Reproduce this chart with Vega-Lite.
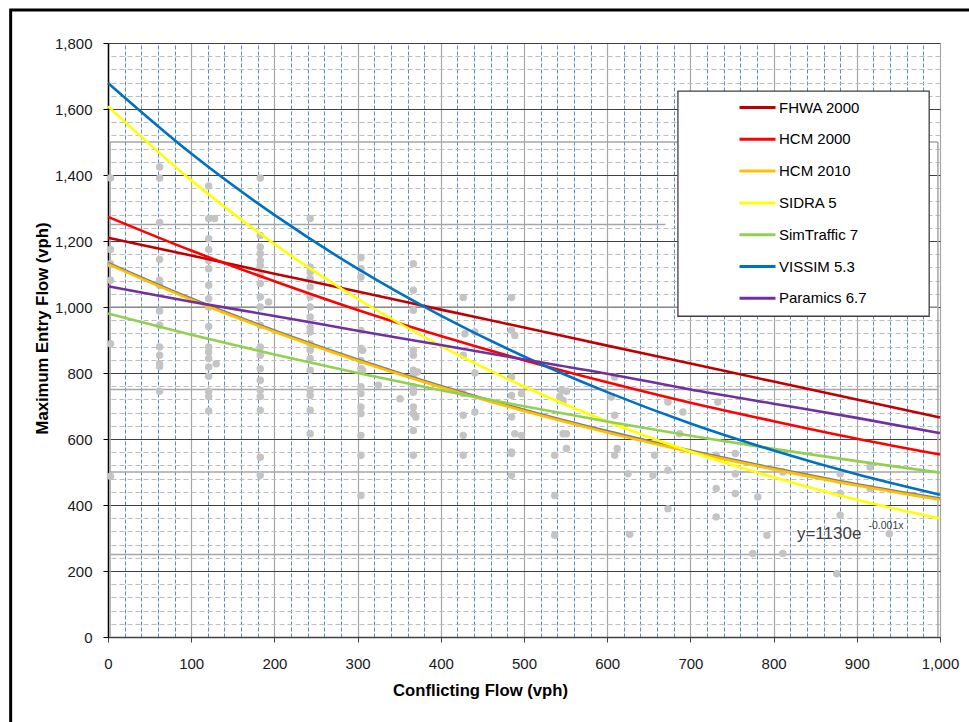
{
  "$schema": "https://vega.github.io/schema/vega-lite/v6.json",
  "autosize": {"type": "none"},
  "padding": {"left": 108, "top": 43, "right": 29, "bottom": 85},
  "width": 832,
  "height": 594,
  "background": "#ffffff",
  "config": {"view": {"stroke": null}, "font": "Liberation Sans"},
  "datasets": {
    "pts": [
      {"x":3,"y":1391},{"x":3,"y":1174},{"x":3,"y":1131},{"x":3,"y":1081},{"x":3,"y":889},{"x":3,"y":487},
      {"x":62,"y":1424},{"x":62,"y":1391},{"x":62,"y":1256},{"x":62,"y":1144},{"x":62,"y":1081},{"x":62,"y":1066},{"x":62,"y":988},{"x":62,"y":945},{"x":62,"y":879},{"x":62,"y":854},{"x":62,"y":828},{"x":62,"y":820},{"x":62,"y":745},
      {"x":121,"y":1367},{"x":121,"y":1268},{"x":128,"y":1268},{"x":121,"y":1207},{"x":121,"y":1174},{"x":121,"y":1141},{"x":121,"y":1116},{"x":121,"y":1066},{"x":121,"y":1025},{"x":121,"y":1000},{"x":121,"y":941},{"x":121,"y":879},{"x":121,"y":864},{"x":121,"y":844},{"x":130,"y":828},{"x":121,"y":818},{"x":121,"y":790},{"x":121,"y":745},{"x":121,"y":729},{"x":121,"y":685},
      {"x":183,"y":1391},{"x":183,"y":1217},{"x":183,"y":1182},{"x":183,"y":1162},{"x":183,"y":1141},{"x":183,"y":1126},{"x":183,"y":1096},{"x":183,"y":1071},{"x":183,"y":1030},{"x":193,"y":1015},{"x":183,"y":1000},{"x":183,"y":945},{"x":183,"y":879},{"x":183,"y":854},{"x":183,"y":813},{"x":183,"y":778},{"x":183,"y":748},{"x":183,"y":729},{"x":183,"y":687},{"x":183,"y":545},{"x":183,"y":490},
      {"x":243,"y":1268},{"x":243,"y":1121},{"x":243,"y":1106},{"x":243,"y":1086},{"x":243,"y":1061},{"x":243,"y":1030},{"x":243,"y":1000},{"x":243,"y":970},{"x":243,"y":939},{"x":243,"y":924},{"x":243,"y":889},{"x":243,"y":869},{"x":243,"y":844},{"x":243,"y":808},{"x":243,"y":748},{"x":243,"y":732},{"x":243,"y":687},{"x":243,"y":616},
      {"x":304,"y":1150},{"x":304,"y":1116},{"x":304,"y":1091},{"x":304,"y":929},{"x":304,"y":874},{"x":306,"y":869},{"x":304,"y":838},{"x":304,"y":813},{"x":306,"y":808},{"x":304,"y":758},{"x":304,"y":738},{"x":304,"y":697},{"x":304,"y":677},{"x":304,"y":611},{"x":304,"y":551},{"x":304,"y":429},{"x":325,"y":763},{"x":351,"y":722},
      {"x":367,"y":1131},{"x":367,"y":1051},{"x":367,"y":990},{"x":367,"y":869},{"x":367,"y":854},{"x":367,"y":808},{"x":372,"y":803},{"x":367,"y":793},{"x":367,"y":758},{"x":367,"y":742},{"x":367,"y":697},{"x":367,"y":677},{"x":370,"y":667},{"x":367,"y":626},{"x":367,"y":551},
      {"x":427,"y":1029},{"x":429,"y":919},{"x":441,"y":924},{"x":427,"y":854},{"x":441,"y":800},{"x":427,"y":738},{"x":441,"y":682},{"x":427,"y":672},{"x":427,"y":611},{"x":427,"y":551},
      {"x":485,"y":1029},{"x":485,"y":929},{"x":489,"y":914},{"x":485,"y":788},{"x":497,"y":738},{"x":485,"y":732},{"x":485,"y":667},{"x":489,"y":616},{"x":497,"y":611},{"x":485,"y":561},{"x":485,"y":556},{"x":485,"y":490},
      {"x":545,"y":748},{"x":551,"y":745},{"x":543,"y":728},{"x":547,"y":717},{"x":547,"y":616},{"x":551,"y":616},{"x":551,"y":571},{"x":537,"y":551},{"x":537,"y":429},{"x":537,"y":308},
      {"x":609,"y":788},{"x":605,"y":727},{"x":609,"y":672},{"x":612,"y":571},{"x":609,"y":551},{"x":625,"y":495},{"x":627,"y":311},
      {"x":673,"y":712},{"x":691,"y":682},{"x":687,"y":616},{"x":657,"y":551},{"x":655,"y":490},{"x":673,"y":505},{"x":673,"y":389},
      {"x":733,"y":712},{"x":731,"y":551},{"x":754,"y":556},{"x":754,"y":495},{"x":731,"y":450},{"x":754,"y":435},{"x":731,"y":364},
      {"x":781,"y":424},{"x":792,"y":308},{"x":775,"y":253},{"x":811,"y":253},{"x":811,"y":500},{"x":880,"y":495},{"x":880,"y":435},{"x":880,"y":369},{"x":876,"y":192},{"x":916,"y":515},{"x":916,"y":450},{"x":939,"y":313}
    ],
    "ghost": [
      {"x1":2.5,"x2":997.5,"y1":250,"y2":250},
      {"x1":2.5,"x2":997.5,"y1":500,"y2":500},
      {"x1":2.5,"x2":997.5,"y1":750,"y2":750},
      {"x1":2.5,"x2":997.5,"y1":1000,"y2":1000},
      {"x1":2.5,"x2":670,"y1":1250,"y2":1250},
      {"x1":2.5,"x2":997.5,"y1":1500,"y2":1500},
      {"x1":2.5,"x2":2.5,"y1":0,"y2":1500},
      {"x1":997.5,"x2":997.5,"y1":0,"y2":1500}
    ],
    "trend": [
      {"x":0,"y":1133},{"x":100,"y":1025},{"x":200,"y":928},{"x":300,"y":840},{"x":400,"y":760},{"x":500,"y":688},{"x":600,"y":623},{"x":700,"y":564},{"x":800,"y":511},{"x":900,"y":462},{"x":1000,"y":419}
    ],
    "lines": [
      {"series":"FHWA 2000","x":0,"y":1210},{"series":"FHWA 2000","x":100,"y":1156},{"series":"FHWA 2000","x":200,"y":1101},{"series":"FHWA 2000","x":300,"y":1047},{"series":"FHWA 2000","x":400,"y":992},{"series":"FHWA 2000","x":500,"y":938},{"series":"FHWA 2000","x":600,"y":883},{"series":"FHWA 2000","x":700,"y":829},{"series":"FHWA 2000","x":800,"y":774},{"series":"FHWA 2000","x":900,"y":720},{"series":"FHWA 2000","x":1000,"y":665},
      {"series":"HCM 2000","x":0,"y":1273},{"series":"HCM 2000","x":100,"y":1171},{"series":"HCM 2000","x":200,"y":1078},{"series":"HCM 2000","x":300,"y":991},{"series":"HCM 2000","x":400,"y":912},{"series":"HCM 2000","x":500,"y":839},{"series":"HCM 2000","x":600,"y":772},{"series":"HCM 2000","x":700,"y":710},{"series":"HCM 2000","x":800,"y":654},{"series":"HCM 2000","x":900,"y":601},{"series":"HCM 2000","x":1000,"y":553},
      {"series":"HCM 2010","x":0,"y":1130},{"series":"HCM 2010","x":100,"y":1022},{"series":"HCM 2010","x":200,"y":925},{"series":"HCM 2010","x":300,"y":837},{"series":"HCM 2010","x":400,"y":757},{"series":"HCM 2010","x":500,"y":685},{"series":"HCM 2010","x":600,"y":620},{"series":"HCM 2010","x":700,"y":561},{"series":"HCM 2010","x":800,"y":508},{"series":"HCM 2010","x":900,"y":459},{"series":"HCM 2010","x":1000,"y":416},
      {"series":"SIDRA 5","x":0,"y":1608},{"series":"SIDRA 5","x":100,"y":1384},{"series":"SIDRA 5","x":200,"y":1191},{"series":"SIDRA 5","x":300,"y":1025},{"series":"SIDRA 5","x":400,"y":882},{"series":"SIDRA 5","x":500,"y":759},{"series":"SIDRA 5","x":600,"y":653},{"series":"SIDRA 5","x":700,"y":562},{"series":"SIDRA 5","x":800,"y":484},{"series":"SIDRA 5","x":900,"y":416},{"series":"SIDRA 5","x":1000,"y":359},
      {"series":"SimTraffic 7","x":0,"y":980},{"series":"SimTraffic 7","x":100,"y":916},{"series":"SimTraffic 7","x":200,"y":856},{"series":"SimTraffic 7","x":300,"y":800},{"series":"SimTraffic 7","x":400,"y":748},{"series":"SimTraffic 7","x":500,"y":699},{"series":"SimTraffic 7","x":600,"y":653},{"series":"SimTraffic 7","x":700,"y":610},{"series":"SimTraffic 7","x":800,"y":570},{"series":"SimTraffic 7","x":900,"y":533},{"series":"SimTraffic 7","x":1000,"y":498},
      {"series":"VISSIM 5.3","x":0,"y":1679},{"series":"VISSIM 5.3","x":100,"y":1465},{"series":"VISSIM 5.3","x":200,"y":1279},{"series":"VISSIM 5.3","x":300,"y":1116},{"series":"VISSIM 5.3","x":400,"y":974},{"series":"VISSIM 5.3","x":500,"y":850},{"series":"VISSIM 5.3","x":600,"y":742},{"series":"VISSIM 5.3","x":700,"y":647},{"series":"VISSIM 5.3","x":800,"y":565},{"series":"VISSIM 5.3","x":900,"y":493},{"series":"VISSIM 5.3","x":1000,"y":431},
      {"series":"Paramics 6.7","x":0,"y":1063},{"series":"Paramics 6.7","x":100,"y":1016},{"series":"Paramics 6.7","x":200,"y":973},{"series":"Paramics 6.7","x":300,"y":928},{"series":"Paramics 6.7","x":400,"y":885},{"series":"Paramics 6.7","x":500,"y":841},{"series":"Paramics 6.7","x":600,"y":798},{"series":"Paramics 6.7","x":700,"y":750},{"series":"Paramics 6.7","x":800,"y":707},{"series":"Paramics 6.7","x":900,"y":664},{"series":"Paramics 6.7","x":1000,"y":618}
    ]
  },
  "resolve": {"axis": {"x": "independent", "y": "independent"}},
  "layer": [
    {
      "data": {"name": "ghost"},
      "mark": {"type": "rule", "color": "#a6a6a6", "strokeWidth": 1.5},
      "encoding": {
        "x": {"field": "x1", "type": "quantitative", "scale": {"domain": [0, 1000], "nice": false, "zero": false}, "axis": null},
        "x2": {"field": "x2"},
        "y": {"field": "y1", "type": "quantitative", "scale": {"domain": [0, 1800], "nice": false}, "axis": null},
        "y2": {"field": "y2"}
      }
    },
    {
      "data": {"name": "pts"},
      "mark": {"type": "circle", "size": 56, "color": "#c4c4c4", "opacity": 1},
      "encoding": {
        "x": {"field": "x", "type": "quantitative", "scale": {"domain": [0, 1000], "nice": false, "zero": false},
          "axis": {"orient": "top", "values": [20,40,60,80,120,140,160,180,220,240,260,280,320,340,360,380,420,440,460,480,520,540,560,580,620,640,660,680,720,740,760,780,820,840,860,880,920,940,960,980],
            "grid": true, "gridColor": "#5b8bcb", "gridDash": [4, 2], "gridWidth": 1, "labels": false, "ticks": false, "domain": false, "title": null}},
        "y": {"field": "y", "type": "quantitative", "scale": {"domain": [0, 1800], "nice": false},
          "axis": {"orient": "right", "values": [40,80,120,160,240,280,320,360,440,480,520,560,640,680,720,760,840,880,920,960,1040,1080,1120,1160,1240,1280,1320,1360,1440,1480,1520,1560,1640,1680,1720,1760],
            "grid": true, "gridColor": "#bdbdbd", "gridDash": [5, 3], "gridWidth": 1, "labels": false, "ticks": false, "domain": false, "title": null}}
      }
    },
    {
      "data": {"name": "trend"},
      "mark": {"type": "line", "color": "#7f7f7f", "strokeWidth": 3.2, "interpolate": "monotone"},
      "encoding": {
        "x": {"field": "x", "type": "quantitative", "axis": null},
        "y": {"field": "y", "type": "quantitative", "axis": null}
      }
    },
    {
      "data": {"name": "lines"},
      "mark": {"type": "line", "strokeWidth": 2.6, "interpolate": "monotone"},
      "encoding": {
        "x": {"field": "x", "type": "quantitative", "scale": {"domain": [0, 1000], "nice": false, "zero": false},
          "axis": {"orient": "bottom", "values": [0,100,200,300,400,500,600,700,800,900,1000], "format": ",.0f",
            "grid": true, "gridColor": "#a6a6a6", "gridWidth": 1.2,
            "domain": true, "domainColor": "#404040", "domainWidth": 1.5,
            "ticks": true, "tickSize": 5, "tickColor": "#404040", "tickWidth": 1,
            "labelFont": "Liberation Sans", "labelFontSize": 15, "labelColor": "#1a1a1a", "labelPadding": 14, "labelFlush": false, "labelOverlap": false,
            "title": "Conflicting Flow (vph)", "titleFont": "Liberation Sans", "titleFontSize": 16.67, "titleFontWeight": "bold", "titleColor": "#000000",
            "titleX": 372, "titleY": 53, "titleBaseline": "middle", "titleAlign": "center"}},
        "y": {"field": "y", "type": "quantitative", "scale": {"domain": [0, 1800], "nice": false},
          "axis": {"orient": "left", "values": [0,200,400,600,800,1000,1200,1400,1600,1800], "format": ",.0f",
            "grid": true, "gridColor": "#404040", "gridWidth": 1,
            "domain": true, "domainColor": "#000000", "domainWidth": 1.5,
            "ticks": true, "tickSize": 5, "tickColor": "#000000", "tickWidth": 1,
            "labelFont": "Liberation Sans", "labelFontSize": 15, "labelColor": "#1a1a1a", "labelPadding": 11, "labelOverlap": false,
            "title": "Maximum Entry Flow (vph)", "titleFont": "Liberation Sans", "titleFontSize": 16.67, "titleFontWeight": "bold", "titleColor": "#000000",
            "titleX": -66, "titleY": 285, "titleAngle": 270, "titleBaseline": "middle", "titleAlign": "center"}},
        "color": {"field": "series", "type": "nominal",
          "scale": {"domain": ["FHWA 2000", "HCM 2000", "HCM 2010", "SIDRA 5", "SimTraffic 7", "VISSIM 5.3", "Paramics 6.7"],
                    "range": ["#c00000", "#ff0000", "#ffc000", "#ffff00", "#92d050", "#0070c0", "#7030a0"]},
          "legend": {"orient": "none", "legendX": 570, "legendY": 47, "title": null,
            "symbolType": "M-1.8,0H1.8", "symbolSize": 400, "symbolStrokeWidth": 3,
            "symbolOffset": 62, "labelOffset": 10, "padding": 6, "rowPadding": 11.8,
            "labelFont": "Liberation Sans", "labelFontSize": 15, "labelColor": "#000000", "labelLimit": 300}}
      }
    },
    {
      "data": {"values": [{}]},
      "mark": {"type": "rect", "fill": "#ffffff", "stroke": "#404040", "strokeWidth": 1.3},
      "encoding": {
        "x": {"datum": 685, "type": "quantitative", "axis": null},
        "x2": {"datum": 987},
        "y": {"datum": 1654, "type": "quantitative", "axis": null},
        "y2": {"datum": 972}
      }
    },
    {
      "data": {"values": [{}]},
      "mark": {"type": "text", "text": "y=1130e", "fontSize": 17, "color": "#404040", "align": "left", "baseline": "alphabetic", "font": "Liberation Sans"},
      "encoding": {
        "x": {"datum": 828, "type": "quantitative", "axis": null},
        "y": {"datum": 298, "type": "quantitative", "axis": null}
      }
    },
    {
      "data": {"values": [{}]},
      "mark": {"type": "text", "text": "-0.001x", "fontSize": 10.5, "color": "#404040", "align": "left", "baseline": "alphabetic", "font": "Liberation Sans"},
      "encoding": {
        "x": {"datum": 914, "type": "quantitative", "axis": null},
        "y": {"datum": 328, "type": "quantitative", "axis": null}
      }
    },
    {
      "data": {"values": [{}]},
      "mark": {"type": "rect", "fill": null, "fillOpacity": 0, "stroke": "#000000", "strokeWidth": 3},
      "encoding": {
        "x": {"datum": -117, "type": "quantitative", "axis": null},
        "x2": {"datum": 1100},
        "y": {"datum": 1900, "type": "quantitative", "axis": null},
        "y2": {"datum": -400}
      }
    }
  ]
}
